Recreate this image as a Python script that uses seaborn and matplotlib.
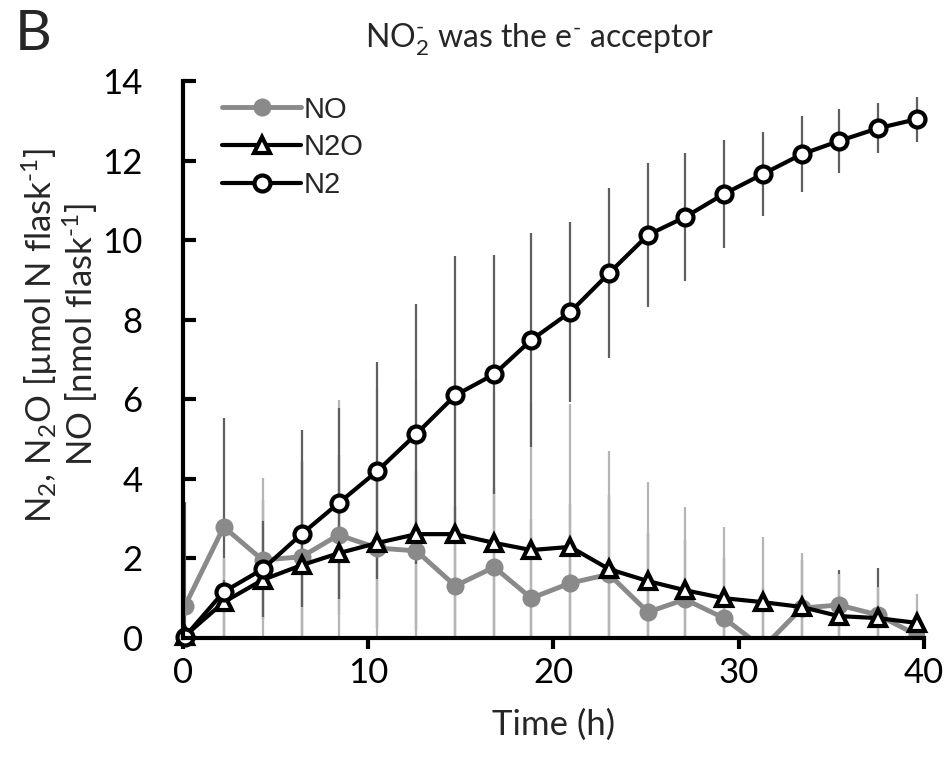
import matplotlib
matplotlib.use("Agg")
import matplotlib.pyplot as plt
import seaborn as sns
import pandas as pd
import numpy as np

# ---- data ----
time_h = [0.1, 2.2, 4.3, 6.4, 8.4, 10.5, 12.6, 14.7, 16.8, 18.8,
          20.9, 23.0, 25.1, 27.1, 29.2, 31.3, 33.4, 35.4, 37.5, 39.6]
no_vals = [0.80, 2.79, 1.96, 2.04, 2.59, 2.26, 2.19, 1.31, 1.78, 1.00,
           1.38, 1.60, 0.65, 0.97, 0.50, -0.25, 0.75, 0.83, 0.58, 0.08]
n2o_vals = [0.05, 0.90, 1.46, 1.83, 2.13, 2.39, 2.61, 2.61, 2.39, 2.21,
            2.29, 1.73, 1.43, 1.20, 1.00, 0.90, 0.78, 0.55, 0.50, 0.38]
n2_vals = [0.03, 1.16, 1.73, 2.61, 3.39, 4.20, 5.13, 6.10, 6.63, 7.49,
           8.19, 9.17, 10.13, 10.58, 11.16, 11.66, 12.16, 12.49, 12.81, 13.04]
no_err = [2.62, 2.74, 1.50, 3.20, 2.00, 2.00, 2.00, 2.00, 2.00, 2.00,
          2.00, 2.00, 2.00, 1.50, 1.50, 1.50, 1.20, 0.87, 1.18, 0.60]
n2o_err = [0.20, 1.10, 2.56, 2.60, 3.85, 3.90, 3.90, 3.90, 3.80, 3.70,
           3.60, 2.97, 2.49, 2.09, 1.79, 1.64, 1.36, 1.05, 0.78, 0.72]
n2_err = [0.10, 0.30, 1.20, 1.83, 2.40, 2.73, 3.26, 3.50, 3.00, 2.70,
          2.26, 2.13, 1.80, 1.60, 1.36, 1.05, 0.95, 0.80, 0.63, 0.57]
series_names = ["NO", "N2O", "N2"]
x_ticks = [0, 10, 20, 30, 40]
y_ticks = [0, 2, 4, 6, 8, 10, 12, 14]

sns.set_style("white")
plt.rcParams["font.family"] = ["Lato", "DejaVu Sans"]
plt.rcParams["mathtext.fontset"] = "custom"
plt.rcParams["mathtext.rm"] = "Lato"
plt.rcParams["mathtext.it"] = "Lato:italic"
plt.rcParams["mathtext.bf"] = "Lato:bold"

df = pd.DataFrame({"t": time_h, "NO": no_vals, "N2O": n2o_vals, "N2": n2_vals})

fig = plt.figure(figsize=(9.5, 7.68), dpi=100)
ax = fig.add_axes([0.1926, 0.1693, 0.78, 0.7252])

dark_err = "#5f5f5f"
light_err = "#b5b5b5"
no_color = "#8a8a8a"

# error bars
ax.errorbar(time_h, no_vals, yerr=no_err, fmt="none", ecolor=dark_err,
            elinewidth=1.6, capsize=0, zorder=1.0)
ax.errorbar(time_h, n2o_vals, yerr=n2o_err, fmt="none", ecolor=light_err,
            elinewidth=1.6, capsize=0, zorder=1.1)
ax.errorbar(time_h, n2_vals, yerr=n2_err, fmt="none", ecolor=dark_err,
            elinewidth=1.6, capsize=0, zorder=1.2)

# lines
sns.lineplot(data=df, x="t", y="NO", ax=ax, color=no_color, lw=3.5,
             marker="o", markersize=13, markeredgewidth=0,
             markerfacecolor=no_color, label=series_names[0], zorder=2)
sns.lineplot(data=df, x="t", y="N2O", ax=ax, color="black", lw=3,
             marker="^", markersize=12, markeredgewidth=3,
             markerfacecolor="white", markeredgecolor="black",
             label=series_names[1], zorder=3, clip_on=False)
sns.lineplot(data=df, x="t", y="N2", ax=ax, color="black", lw=3,
             marker="o", markersize=11.5, markeredgewidth=3,
             markerfacecolor="white", markeredgecolor="black",
             label=series_names[2], zorder=4, clip_on=False)

ax.set_xlim(0, 40)
ax.set_ylim(0, 14)
ax.set_xticks(x_ticks)
ax.set_yticks(y_ticks)
ax.set_xticklabels([str(v) for v in x_ticks])
ax.set_yticklabels([str(v) for v in y_ticks])

for s in ["top", "right"]:
    ax.spines[s].set_visible(False)
for s in ["left", "bottom"]:
    ax.spines[s].set_linewidth(3)
    ax.spines[s].set_color("black")
    ax.spines[s].set_zorder(5)

ax.tick_params(axis="y", which="major", left=True, right=False,
               direction="in", length=9.5, width=3, labelsize=25,
               pad=29, colors="black")
ax.tick_params(axis="x", which="major", bottom=True, top=False,
               direction="out", length=8, width=3, labelsize=25,
               pad=6, colors="black")

ax.set_xlabel("Time (h)", fontsize=25, labelpad=14)
ax.set_ylabel("")

fig.text(0.063, 0.564,
         "N$_2$, N$_2$O [µmol N flask$^{\\text{-}1}$]\nNO [nmol flask$^{\\text{-}1}$]",
         rotation=90, ha="center", va="center", multialignment="center",
         fontsize=25, linespacing=1.05)

fig.text(0.568, 0.948, "NO$_2^{\\text{-}}$ was the e$^{\\text{-}}$ acceptor",
         ha="center", va="center", fontsize=23)
fig.text(0.016, 0.955, "B", ha="left", va="center", fontsize=41)

leg = ax.legend(loc="upper left", bbox_to_anchor=(0.053, 0.974),
                frameon=False, handlelength=2.7, handletextpad=0.1,
                labelspacing=0.33, borderaxespad=0, borderpad=0,
                prop={"family": "Liberation Sans", "size": 21})

fig.savefig("out.png", dpi=100)
